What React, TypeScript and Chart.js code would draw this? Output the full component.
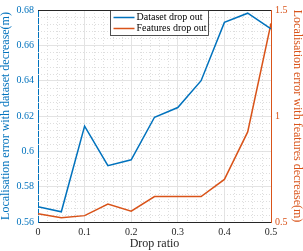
import { useEffect, useRef } from 'react';
import { Chart, registerables } from 'chart.js';

Chart.register(...registerables);

// ---- data ----
const dropRatio = [0, 0.05, 0.1, 0.15, 0.2, 0.25, 0.3, 0.35, 0.4, 0.45, 0.5];
const datasetDropOut = [0.5687, 0.5658, 0.6143, 0.5919, 0.5952, 0.6193, 0.6248, 0.640, 0.673, 0.6782, 0.6693];
const featuresDropOut = [0.539, 0.520, 0.530, 0.585, 0.551, 0.620, 0.620, 0.620, 0.701, 0.925, 1.437];
const seriesLabels = ['Dataset drop out', 'Features drop out'];
const xTitle = 'Drop ratio';
const leftTitle = 'Localisation error with dataset decrease(m)';
const rightTitle = 'Localisation error with features decrease(m)';
const xRange = [0, 0.5];
const leftRange = [0.56, 0.68];
const rightRange = [0.5, 1.5];

const BLUE = '#0072BD';
const ORANGE = '#D95319';
const AXIS = '#262626';
const FONT = "'Liberation Serif', serif";

const fmt = (v: number) => String(Number(Number(v).toFixed(3)));

const minorGrid = {
  id: 'minorGrid',
  beforeDatasetsDraw(chart: any) {
    const { ctx, chartArea: a, scales } = chart;
    ctx.save();
    ctx.strokeStyle = '#dedede';
    ctx.lineWidth = 1;
    ctx.setLineDash([1, 2]);
    const xs = scales.x;
    for (let i = 0; i <= 25; i++) {
      if (i % 5 === 0) continue;
      const px = Math.round(xs.getPixelForValue(i * 0.02)) + 0.5;
      ctx.beginPath();
      ctx.moveTo(px, a.top);
      ctx.lineTo(px, a.bottom);
      ctx.stroke();
    }
    const ys = scales.y;
    for (let i = 0; i <= 30; i++) {
      if (i % 5 === 0) continue;
      const py = Math.round(ys.getPixelForValue(0.56 + i * 0.004)) + 0.5;
      ctx.beginPath();
      ctx.moveTo(a.left, py);
      ctx.lineTo(a.right, py);
      ctx.stroke();
    }
    ctx.restore();
  },
  afterDraw(chart: any) {
    const { ctx, chartArea: a } = chart;
    ctx.save();
    // top box line
    ctx.strokeStyle = AXIS;
    ctx.lineWidth = 1;
    ctx.beginPath();
    ctx.moveTo(a.left, Math.round(a.top) + 0.5);
    ctx.lineTo(a.right, Math.round(a.top) + 0.5);
    ctx.stroke();
    // legend
    ctx.font = `10px ${FONT}`;
    const ds = chart.data.datasets;
    let tw = 0;
    ds.forEach((d: any) => { tw = Math.max(tw, ctx.measureText(d.label).width); });
    const bx = 110.5, by = Math.round(a.top) + 0.5;
    const bw = 3 + 21 + 2 + tw + 2;
    const bh = 25;
    ctx.fillStyle = '#ffffff';
    ctx.fillRect(bx, by, bw, bh);
    ctx.strokeStyle = AXIS;
    ctx.lineWidth = 0.8;
    ctx.strokeRect(bx, by, bw, bh);
    ds.forEach((d: any, i: number) => {
      const cy = by + 7 + i * 11;
      ctx.strokeStyle = d.borderColor;
      ctx.lineWidth = 1.5;
      ctx.beginPath();
      ctx.moveTo(bx + 3, cy);
      ctx.lineTo(bx + 24, cy);
      ctx.stroke();
      ctx.fillStyle = '#000000';
      ctx.textBaseline = 'middle';
      ctx.textAlign = 'left';
      ctx.fillText(d.label, bx + 26, cy);
    });
    ctx.restore();
  },
};

export default function App() {
  const ref = useRef<HTMLCanvasElement>(null);
  useEffect(() => {
    if (!ref.current) return;
    const chart = new Chart(ref.current, {
      type: 'line',
      data: {
        datasets: [
          {
            label: seriesLabels[0],
            data: dropRatio.map((x, i) => ({ x, y: datasetDropOut[i] })),
            borderColor: BLUE,
            backgroundColor: BLUE,
            borderWidth: 1.5,
            pointRadius: 0,
            tension: 0,
            yAxisID: 'y',
          },
          {
            label: seriesLabels[1],
            data: dropRatio.map((x, i) => ({ x, y: featuresDropOut[i] })),
            borderColor: ORANGE,
            backgroundColor: ORANGE,
            borderWidth: 1.5,
            pointRadius: 0,
            tension: 0,
            yAxisID: 'y1',
          },
        ],
      },
      options: {
        responsive: false,
        animation: false,
        devicePixelRatio: 1,
        layout: { padding: { top: 5, left: 0, right: 0, bottom: 0 } },
        plugins: { legend: { display: false }, tooltip: { enabled: false } },
        scales: {
          x: {
            type: 'linear',
            min: xRange[0],
            max: xRange[1],
            ticks: { stepSize: 0.1, padding: 4, color: AXIS, font: { family: FONT, size: 10 }, callback: (v: any) => fmt(v), maxRotation: 0 },
            grid: { color: '#e3e3e3', drawTicks: false },
            border: { color: AXIS, width: 1 },
            title: { display: true, text: xTitle, color: AXIS, font: { family: FONT, size: 12, lineHeight: 1 }, padding: { top: 0, bottom: 1 } },
            afterFit: (s: any) => { s.height = 29; },
          },
          y: {
            type: 'linear',
            position: 'left',
            min: leftRange[0],
            max: leftRange[1],
            ticks: { stepSize: 0.02, padding: 4, color: BLUE, font: { family: FONT, size: 10 }, callback: (v: any) => fmt(v) },
            grid: { color: '#e3e3e3', drawTicks: false },
            border: { color: BLUE, width: 1 },
            title: { display: true, text: leftTitle, color: BLUE, font: { family: FONT, size: 12, lineHeight: 1 }, padding: 0 },
            afterFit: (s: any) => { s.width = 38; },
          },
          y1: {
            type: 'linear',
            position: 'right',
            min: rightRange[0],
            max: rightRange[1],
            ticks: { stepSize: 0.5, padding: 4, color: ORANGE, font: { family: FONT, size: 10 }, callback: (v: any) => fmt(v) },
            grid: { display: false, drawTicks: false },
            border: { color: ORANGE, width: 1 },
            title: { display: true, text: rightTitle, color: ORANGE, font: { family: FONT, size: 12, lineHeight: 1 }, padding: { top: 0, bottom: 0 } },
            afterFit: (s: any) => { s.width = 32; },
          },
        },
      },
      plugins: [minorGrid],
    } as any);
    return () => chart.destroy();
  }, []);
  return (
    <div style={{ position: 'fixed', left: 0, top: 0, width: 303, height: 251, background: '#fff' }}>
      <canvas ref={ref} width={303} height={251} style={{ display: 'block' }} />
    </div>
  );
}
